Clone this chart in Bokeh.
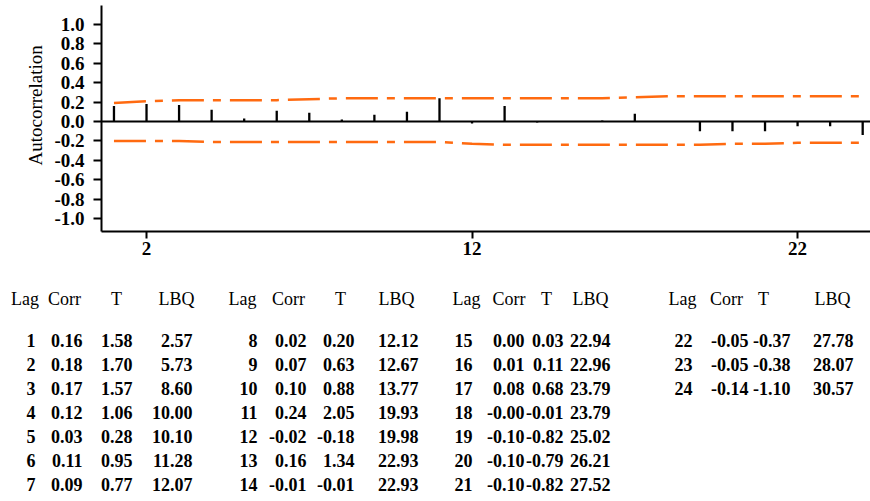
from bokeh.plotting import figure
from bokeh.models import (ColumnDataSource, Range1d, FixedTicker,
                          PrintfTickFormatter, Span, Title)
from bokeh.core.properties import value
from bokeh.embed import file_html
from bokeh.resources import INLINE

# ---------------- data ----------------
lags = list(range(1, 25))
corr = [0.16, 0.18, 0.17, 0.12, 0.03, 0.11, 0.09, 0.02, 0.07, 0.10, 0.24, -0.02,
        0.16, -0.01, 0.00, 0.01, 0.08, -0.0, -0.10, -0.10, -0.10, -0.05, -0.05, -0.14]
tstat = [1.58, 1.70, 1.57, 1.06, 0.28, 0.95, 0.77, 0.20, 0.63, 0.88, 2.05, -0.18,
         1.34, -0.01, 0.03, 0.11, 0.68, -0.01, -0.82, -0.79, -0.82, -0.37, -0.38, -1.10]
lbq = [2.57, 5.73, 8.60, 10.00, 10.10, 11.28, 12.07, 12.12, 12.67, 13.77, 19.93, 19.98,
       22.93, 22.93, 22.94, 22.96, 23.79, 23.79, 25.02, 26.21, 27.52, 27.78, 28.07, 30.57]
# significance limits
upper = [0.19, 0.21, 0.22, 0.22, 0.22, 0.22, 0.23, 0.24, 0.24, 0.24, 0.24, 0.24,
         0.24, 0.24, 0.24, 0.24, 0.25, 0.26, 0.26, 0.26, 0.26, 0.26, 0.26, 0.26]
lower = [-0.20, -0.20, -0.20, -0.21, -0.21, -0.21, -0.21, -0.21, -0.21, -0.21, -0.21, -0.23,
         -0.24, -0.24, -0.24, -0.24, -0.24, -0.24, -0.24, -0.23, -0.23, -0.22, -0.22, -0.22]
y_ticks = [-1.0, -0.8, -0.6, -0.4, -0.2, 0.0, 0.2, 0.4, 0.6, 0.8, 1.0]
x_ticks = [2, 12, 22]
headers = ["Lag", "Corr", "T", "LBQ"]
rows_per_block = 7
y_label = "Autocorrelation"

# ---------------- styles / layout ----------------
FONT = "Liberation Serif"
ORANGE = "#ff6a10"

p = figure(width=870, height=270, output_backend="svg", toolbar_location=None,
           x_range=Range1d(0.617, 24.24), y_range=Range1d(-1.134, 1.196),
           min_border_left=101, min_border_right=0, min_border_top=5,
           min_border_bottom=39)
p.grid.visible = False
p.outline_line_color = None
p.background_fill_color = "white"

src = ColumnDataSource(dict(lag=lags, corr=corr, zero=[0] * len(lags),
                            upper=upper, lower=lower))
p.add_layout(Span(location=0, dimension="width", line_color="black", line_width=2))
p.segment(x0="lag", y0="zero", x1="lag", y1="corr", source=src,
          line_color="black", line_width=2.3)
p.line("lag", "upper", source=src, line_color=ORANGE, line_width=2.5,
       line_dash="32 9 8 9")
p.line("lag", "lower", source=src, line_color=ORANGE, line_width=2.5,
       line_dash="32 9 8 9")

for ax in (p.xaxis[0], p.yaxis[0]):
    ax.axis_line_width = 2
    ax.major_tick_line_width = 2
    ax.minor_tick_line_color = None
    ax.major_tick_in = 0
    ax.major_label_text_font = FONT
    ax.major_label_text_font_style = "bold"
    ax.major_label_text_color = "black"

p.yaxis[0].ticker = FixedTicker(ticks=y_ticks)
p.yaxis[0].formatter = PrintfTickFormatter(format="%.1f")
p.yaxis[0].major_tick_out = 8
p.yaxis[0].major_label_standoff = 9
p.yaxis[0].major_label_text_font_size = "19px"

p.xaxis[0].ticker = FixedTicker(ticks=x_ticks)
p.xaxis[0].formatter = PrintfTickFormatter(format="%d")
p.xaxis[0].major_tick_out = 7
p.xaxis[0].major_label_standoff = 3
p.xaxis[0].major_label_text_font_size = "19px"

ttl = Title(text=y_label, align="left", offset=66, standoff=12,
            text_font=FONT, text_font_size="19px", text_font_style="normal",
            text_color="black")
p.add_layout(ttl, "left")

# ---------------- table ----------------
t = figure(width=870, height=224, output_backend="svg", toolbar_location=None,
           x_range=Range1d(0, 870), y_range=Range1d(501, 277),
           x_axis_type=None, y_axis_type=None, min_border=0,
           min_border_left=0, min_border_right=0, min_border_top=0,
           min_border_bottom=0)
t.grid.visible = False
t.outline_line_color = None

# page-pixel layout of the four blocks
col_right = [[35, 82, 132, 192], [257, 306, 354, 418],
             [472, 524, 563, 610], [692, 748, 790, 853]]
head_center = [[24.5, 64, 116, 176], [242, 288, 340, 396],
               [466, 508.5, 546, 590], [682, 726, 763, 832]]
HEAD_BASE = 305
ROW_BASE = 346.5
ROW_STEP = 24.1

hx, hy, ht = [], [], []
for b in range(4):
    for c, h in enumerate(headers):
        hx.append(head_center[b][c]); hy.append(HEAD_BASE); ht.append(h)
t.text(x="x", y="y", text="t", source=ColumnDataSource(dict(x=hx, y=hy, t=ht)),
       text_align="center", text_baseline="alphabetic",
       text_font=value(FONT), text_font_size="18px", text_color="black")

cx, cy, ct = [], [], []
for i, lag in enumerate(lags):
    b, r = divmod(i, rows_per_block)
    vals = [f"{lag}", f"{corr[i]:.2f}", f"{tstat[i]:.2f}", f"{lbq[i]:.2f}"]
    for c, s in enumerate(vals):
        cx.append(col_right[b][c]); cy.append(ROW_BASE + r * ROW_STEP); ct.append(s)
t.text(x="x", y="y", text="t", source=ColumnDataSource(dict(x=cx, y=cy, t=ct)),
       text_align="right", text_baseline="alphabetic",
       text_font=value(FONT), text_font_style="bold", text_font_size="18px",
       text_color="black")

open("out.html", "w").write(file_html([p, t], INLINE))
